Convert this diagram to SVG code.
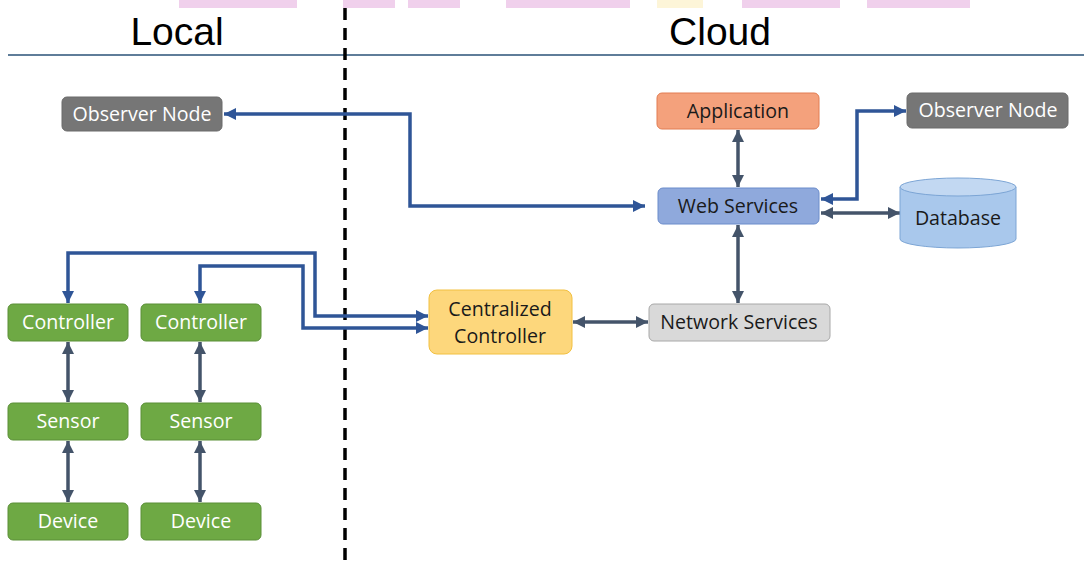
<svg xmlns="http://www.w3.org/2000/svg" width="1084" height="567" viewBox="0 0 1084 567">
  <style>
    .hdr { font-family: "Liberation Sans", Arial, sans-serif; font-size: 39px; fill: #000; text-anchor: middle; }
    .lbl { font-family: "Open Sans", "Noto Sans", sans-serif; font-size: 19.6px; text-anchor: middle; }
    .light { fill: #ffffff; }
    .dark { fill: #1a1a1a; }
    .green { fill: #6ea944; stroke: #5a8f37; stroke-width: 1; }
    .grey { fill: #767676; stroke: #6a6a6a; stroke-width: 1; }
    .blue { stroke: #2f5597; stroke-width: 3.5; fill: none; }
    .slate { stroke: #44546a; stroke-width: 3.5; fill: none; }
    .tab { fill: #f0d0ec; }
  </style>
  <defs>
    <marker id="headBlue" viewBox="0 0 10 10" refX="10" refY="5" markerWidth="13" markerHeight="12" markerUnits="userSpaceOnUse" orient="auto-start-reverse">
      <path d="M0,0 L10,5 L0,10 Z" fill="#2f5597"/>
    </marker>
    <marker id="headSlate" viewBox="0 0 10 10" refX="10" refY="5" markerWidth="13" markerHeight="12" markerUnits="userSpaceOnUse" orient="auto-start-reverse">
      <path d="M0,0 L10,5 L0,10 Z" fill="#44546a"/>
    </marker>
  </defs>

  <rect width="1084" height="567" fill="#ffffff"/>

  <!-- tab strip along the top edge -->
  <g id="tabs">
    <rect class="tab" x="179" y="0" width="118" height="8"/>
    <rect class="tab" x="343" y="0" width="52" height="8"/>
    <rect class="tab" x="408" y="0" width="52" height="8"/>
    <rect class="tab" x="506" y="0" width="124" height="8"/>
    <rect x="657" y="0" width="46" height="8" fill="#fdf5d8"/>
    <rect class="tab" x="742" y="0" width="98" height="8"/>
    <rect class="tab" x="867" y="0" width="103" height="8"/>
  </g>

  <!-- section headings and dividers -->
  <g id="headings">
    <text class="hdr" x="177" y="45">Local</text>
    <text class="hdr" x="720" y="45">Cloud</text>
    <line x1="8" y1="55" x2="1084" y2="55" stroke="#5f7d99" stroke-width="2"/>
    <line x1="345" y1="8" x2="345" y2="567" stroke="#000" stroke-width="3.5" stroke-dasharray="12,8"/>
  </g>

  <!-- connectors -->
  <g id="connectors">
    <path class="blue" d="M645,206 H410 V114 H224" marker-start="url(#headBlue)" marker-end="url(#headBlue)"/>
    <path class="blue" d="M821,199 H857 V111 H906" marker-start="url(#headBlue)" marker-end="url(#headBlue)"/>
    <path class="slate" d="M821,213 H900" marker-start="url(#headSlate)" marker-end="url(#headSlate)"/>
    <path class="slate" d="M738,130 V187" marker-start="url(#headSlate)" marker-end="url(#headSlate)"/>
    <path class="slate" d="M738,225 V303" marker-start="url(#headSlate)" marker-end="url(#headSlate)"/>
    <path class="slate" d="M573,322 H648" marker-start="url(#headSlate)" marker-end="url(#headSlate)"/>
    <path class="blue" d="M428,316 H315 V253 H68 V303" marker-start="url(#headBlue)" marker-end="url(#headBlue)"/>
    <path class="blue" d="M428,328 H303 V266 H200 V303" marker-start="url(#headBlue)" marker-end="url(#headBlue)"/>
    <path class="slate" d="M68,342 V402" marker-start="url(#headSlate)" marker-end="url(#headSlate)"/>
    <path class="slate" d="M200,342 V402" marker-start="url(#headSlate)" marker-end="url(#headSlate)"/>
    <path class="slate" d="M68,441 V502" marker-start="url(#headSlate)" marker-end="url(#headSlate)"/>
    <path class="slate" d="M200,441 V502" marker-start="url(#headSlate)" marker-end="url(#headSlate)"/>
  </g>

  <!-- cloud side -->
  <g id="observer-left">
    <rect class="grey" x="62" y="97" width="160" height="34" rx="5"/>
    <text class="lbl light" x="142" y="121">Observer Node</text>
  </g>
  <g id="application">
    <rect x="657" y="93" width="162" height="36" rx="5" fill="#f4a17c" stroke="#e27d52" stroke-width="1"/>
    <text class="lbl dark" x="738" y="118">Application</text>
  </g>
  <g id="observer-right">
    <rect class="grey" x="907" y="93" width="161" height="35" rx="5"/>
    <text class="lbl light" x="988" y="117">Observer Node</text>
  </g>
  <g id="web-services">
    <rect x="658" y="188" width="161" height="36" rx="5" fill="#8fa9dc" stroke="#6b8ccb" stroke-width="1"/>
    <text class="lbl dark" x="738" y="213">Web Services</text>
  </g>
  <g id="database">
    <path d="M900,187 V239 A58,9 0 0 0 1016,239 V187 Z" fill="#a9c8ec" stroke="#7ca5d5" stroke-width="1"/>
    <ellipse cx="958" cy="187" rx="58" ry="9" fill="#c2d8f2" stroke="#7ca5d5" stroke-width="1"/>
    <text class="lbl dark" x="958" y="225">Database</text>
  </g>
  <g id="centralized-controller">
    <rect x="429" y="290" width="143" height="64" rx="8" fill="#fdd77c" stroke="#f2c040" stroke-width="1"/>
    <text class="lbl dark" x="500" y="316">Centralized</text>
    <text class="lbl dark" x="500" y="343">Controller</text>
  </g>
  <g id="network-services">
    <rect x="649" y="304" width="181" height="37" rx="5" fill="#d9d9d9" stroke="#a8a8a8" stroke-width="1"/>
    <text class="lbl dark" x="739" y="329">Network Services</text>
  </g>

  <!-- local side -->
  <g id="controller-1">
    <rect class="green" x="8" y="304" width="120" height="37" rx="5"/>
    <text class="lbl light" x="68" y="329">Controller</text>
  </g>
  <g id="controller-2">
    <rect class="green" x="141" y="304" width="120" height="37" rx="5"/>
    <text class="lbl light" x="201" y="329">Controller</text>
  </g>
  <g id="sensor-1">
    <rect class="green" x="8" y="403" width="120" height="37" rx="5"/>
    <text class="lbl light" x="68" y="428">Sensor</text>
  </g>
  <g id="sensor-2">
    <rect class="green" x="141" y="403" width="120" height="37" rx="5"/>
    <text class="lbl light" x="201" y="428">Sensor</text>
  </g>
  <g id="device-1">
    <rect class="green" x="8" y="503" width="120" height="37" rx="5"/>
    <text class="lbl light" x="68" y="528">Device</text>
  </g>
  <g id="device-2">
    <rect class="green" x="141" y="503" width="120" height="37" rx="5"/>
    <text class="lbl light" x="201" y="528">Device</text>
  </g>
</svg>
